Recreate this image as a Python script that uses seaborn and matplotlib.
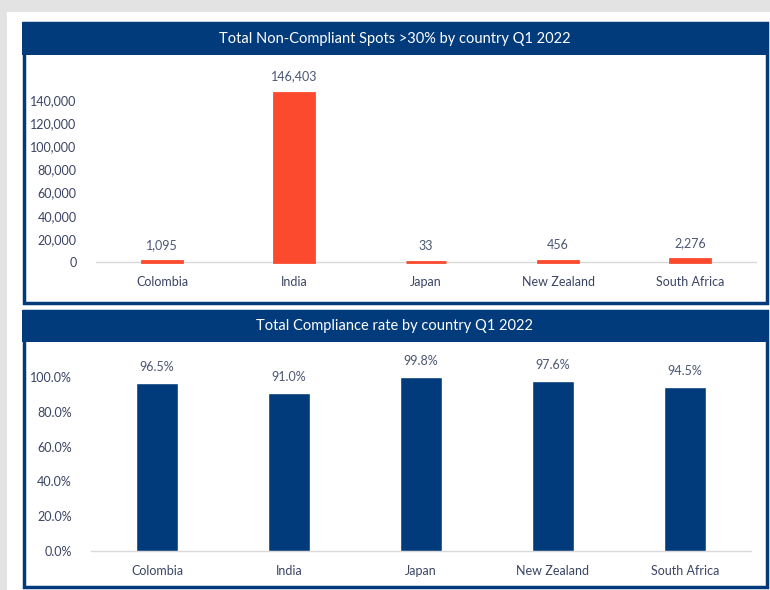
import matplotlib
matplotlib.use("Agg")
import matplotlib.pyplot as plt
from matplotlib.patches import Rectangle
from matplotlib.ticker import FuncFormatter
import seaborn as sns
import pandas as pd

countries = ["Colombia", "India", "Japan", "New Zealand", "South Africa"]
non_compliant = [1095, 146403, 33, 456, 2276]
compliance_rate = [0.965, 0.910, 0.998, 0.976, 0.945]
title_top = "Total Non-Compliant Spots >30% by country Q1 2022"
title_bottom = "Total Compliance rate by country Q1 2022"

sns.set_style("white")
plt.rcParams["font.family"] = ["Lato", "DejaVu Sans"]

W, H = 770, 590
NAVY = "#023b7b"
ORANGE = "#fb4a2d"
TICK = "#3a4463"
LABEL = "#4a5672"

fig = plt.figure(figsize=(W / 100, H / 100), dpi=100)
fig.patch.set_facecolor("#e3e3e3")


def rect(x0, y0, x1, y1, **kw):
    fig.patches.append(Rectangle((x0 / W, 1 - y1 / H), (x1 - x0) / W, (y1 - y0) / H,
                                 transform=fig.transFigure, figure=fig, **kw))


def ax_box(x0, y0, x1, y1):
    return fig.add_axes([x0 / W, 1 - y1 / H, (x1 - x0) / W, (y1 - y0) / H])


# white card
rect(7, 12, 772, 592, facecolor="white", edgecolor="none", zorder=-5)
# panel 1
rect(23.5, 23, 767, 303, facecolor="none", edgecolor=NAVY, lw=2.5, zorder=-4)
rect(22, 22, 768.5, 55, facecolor=NAVY, edgecolor="none", zorder=-3)
fig.text(395 / W, 1 - 39 / H, title_top, color="white", ha="center", va="center", fontsize=10.5)
# panel 2
rect(23.5, 311, 767, 587, facecolor="none", edgecolor=NAVY, lw=2.5, zorder=-4)
rect(22, 310, 768.5, 342, facecolor=NAVY, edgecolor="none", zorder=-3)
fig.text(395 / W, 1 - 326 / H, title_bottom, color="white", ha="center", va="center", fontsize=10.5)

df1 = pd.DataFrame({"country": countries, "value": non_compliant})
df2 = pd.DataFrame({"country": countries, "value": compliance_rate})


def style(ax):
    ax.set_facecolor("none")
    for s in ["top", "right", "left"]:
        ax.spines[s].set_visible(False)
    ax.spines["bottom"].set_color("#d9d9d9")
    ax.spines["bottom"].set_linewidth(1)
    ax.spines["bottom"].set_zorder(0)
    ax.tick_params(axis="both", length=0, colors=TICK, labelsize=9)
    ax.tick_params(axis="x", pad=10)
    ax.tick_params(axis="y", pad=14)
    ax.set_xlabel("")
    ax.set_ylabel("")
    ax.set_xlim(-0.5, 4.5)


ax1 = ax_box(96, 71, 756, 262)
sns.barplot(data=df1, x="country", y="value", color=ORANGE, width=0.31, ax=ax1,
            saturation=1, edgecolor=ORANGE, linewidth=2)
for p in ax1.patches:
    p.set_clip_on(False)
style(ax1)
ax1.set_ylim(0, 165000)
ax1.set_yticks(range(0, 140001, 20000))
ax1.yaxis.set_major_formatter(FuncFormatter(lambda v, p: f"{int(v):,}"))
for i, v in enumerate(non_compliant):
    ax1.annotate(f"{v:,}", (i, v), xytext=(0, 10), textcoords="offset pixels",
                 ha="center", va="bottom", fontsize=9, color=LABEL)

ax2 = ax_box(91, 350, 751, 551)
sns.barplot(data=df2, x="country", y="value", color=NAVY, width=0.32, ax=ax2, saturation=1)
style(ax2)
ax2.set_ylim(0, 1.155)
ax2.set_yticks([0, 0.2, 0.4, 0.6, 0.8, 1.0])
ax2.yaxis.set_major_formatter(FuncFormatter(lambda v, p: f"{v * 100:.1f}%"))
for i, v in enumerate(compliance_rate):
    ax2.annotate(f"{v * 100:.1f}%", (i, v), xytext=(0, 10), textcoords="offset pixels",
                 ha="center", va="bottom", fontsize=9, color=LABEL)

fig.savefig("out.png", dpi=100, facecolor=fig.get_facecolor())
